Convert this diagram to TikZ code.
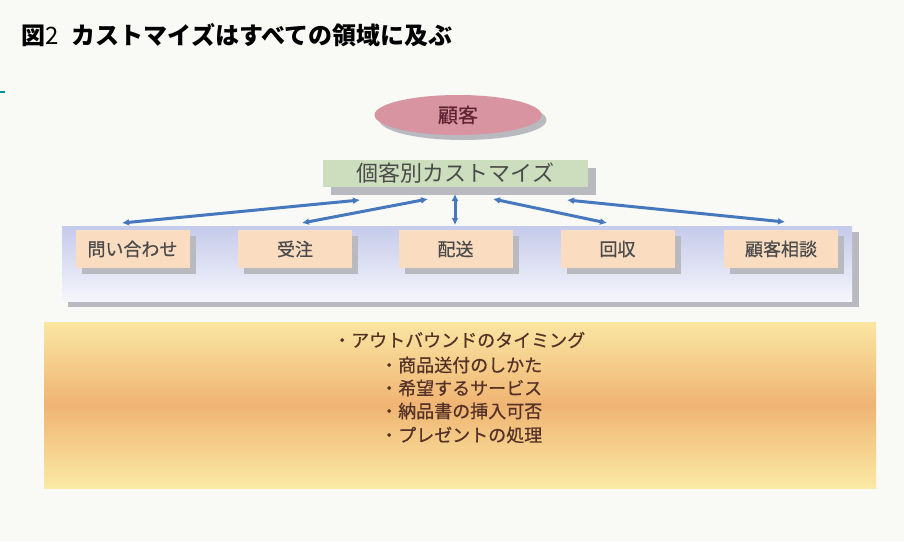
\documentclass[tikz,border=0pt]{standalone}
\usepackage{fontspec}
\setmainfont{Noto Sans CJK JP}
\newfontfamily\medfont[FakeBold=0.6]{Noto Sans CJK JP}
\usetikzlibrary{shapes.geometric,arrows.meta,shadows}
\definecolor{bgc}{RGB}{249,249,246}
\definecolor{pinkc}{RGB}{216,148,160}
\definecolor{pinktxt}{RGB}{95,35,50}
\definecolor{greenc}{RGB}{204,222,190}
\definecolor{peachc}{RGB}{250,221,192}
\definecolor{lavtop}{RGB}{196,202,234}
\definecolor{lavbot}{RGB}{246,246,252}
\definecolor{orgtop}{RGB}{250,230,162}
\definecolor{orgmid}{RGB}{240,180,115}
\definecolor{orgbot}{RGB}{250,234,164}
\definecolor{arrc}{RGB}{70,120,190}
\definecolor{tealc}{RGB}{0,150,150}
\definecolor{boxtxt}{RGB}{75,75,75}
\definecolor{brtxt}{RGB}{85,50,40}
\definecolor{shadc}{RGB}{185,185,192}
\tikzset{
  shad/.style={drop shadow={shadow xshift=6pt, shadow yshift=-6pt, fill=shadc, opacity=1}},
  procbox/.style={rectangle, minimum width=114pt, minimum height=38pt, fill=peachc, shad,
    text=boxtxt, font=\medfont\fontsize{18}{18}\selectfont, inner sep=0pt},
  linkarrow/.style={draw=arrc, line width=3pt, {Latex[length=7pt,width=7pt]}-{Latex[length=7pt,width=7pt]}},
  itemtxt/.style={anchor=west, text=brtxt, font=\medfont\fontsize{18}{18}\selectfont, inner sep=0pt}
}
\begin{document}
\begin{tikzpicture}[x=1pt,y=-1pt]
\fill[bgc] (0,0) rectangle (904,541);
\useasboundingbox (0,0) rectangle (904,541);
% title
\node[anchor=west, inner sep=0pt, font=\fontsize{24}{24}\selectfont] (title) at (21,35) {\textbf{図}2\hspace{0.55em}\textbf{カストマイズはすべての領域に及ぶ}};
\draw[tealc, line width=1.8pt] (0,92) -- (5,92);
% customer
\node[ellipse, minimum width=167pt, minimum height=40pt, fill=pinkc, inner sep=0pt,
  drop shadow={shadow xshift=5pt, shadow yshift=-5pt, fill=shadc, opacity=1},
  text=pinktxt, font=\medfont\fontsize{20}{20}\selectfont] (cust) at (458,115) {顧客};
% customization bar
\node[rectangle, minimum width=265pt, minimum height=27pt, fill=greenc, inner sep=0pt,
  drop shadow={shadow xshift=8pt, shadow yshift=-8pt, fill=shadc, opacity=1},
  text=boxtxt, font=\fontsize{22}{22}\selectfont] (cust2) at (455.5,173.5) {個客別カストマイズ};
% process band
\fill[shadc] (68,232) rectangle (859,307);
\shade[top color=lavtop, bottom color=lavbot] (62,226) rectangle (852,301);
\node[procbox] (p1) at (132.5,249) {問い合わせ};
\node[procbox] (p2) at (295,249) {受注};
\node[procbox] (p3) at (455.5,249) {配送};
\node[procbox] (p4) at (617.5,249) {回収};
\node[procbox] (p5) at (781,249) {顧客相談};
% arrow end points
\coordinate (a1t) at (360,200); \coordinate (a1b) at (122,223);
\coordinate (a2t) at (428,199); \coordinate (a2b) at (302,223);
\coordinate (a3t) at (455,194); \coordinate (a3b) at (455,225);
\coordinate (a4t) at (493,199); \coordinate (a4b) at (607,223);
\coordinate (a5t) at (567,200); \coordinate (a5b) at (785,222);
\draw[linkarrow] (a1b) -- (a1t);
\draw[linkarrow] (a2b) -- (a2t);
\draw[linkarrow] (a3b) -- (a3t);
\draw[linkarrow] (a4b) -- (a4t);
\draw[linkarrow] (a5b) -- (a5t);
% orange band
\shade[top color=orgtop, bottom color=orgbot, middle color=orgmid] (44,322) rectangle (876,488);
\node[itemtxt] (i1) at (333,340) {・アウトバウンドのタイミング};
\node[itemtxt] (i2) at (380,365) {・商品送付のしかた};
\node[itemtxt] (i3) at (380,388) {・希望するサービス};
\node[itemtxt] (i4) at (380,411) {・納品書の挿入可否};
\node[itemtxt] (i5) at (380,435) {・プレゼントの処理};
\end{tikzpicture}
\end{document}
